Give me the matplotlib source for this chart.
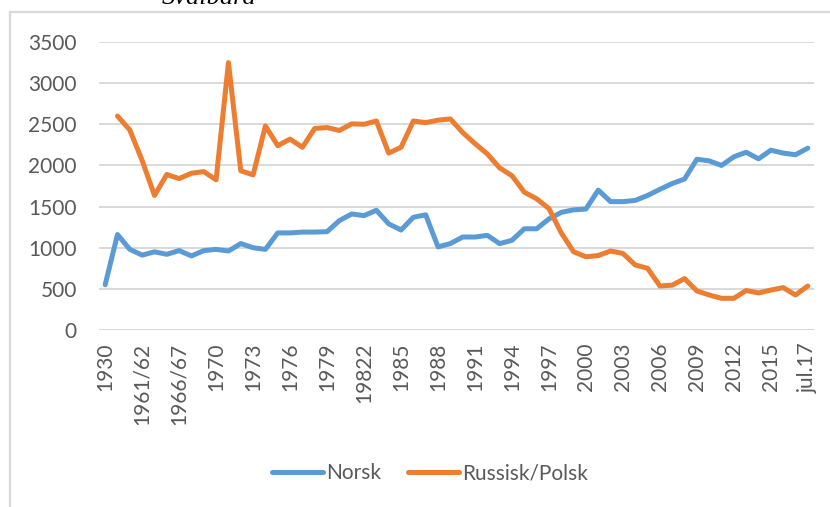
import numpy as np
import matplotlib
matplotlib.use("Agg")
import matplotlib.pyplot as plt
from matplotlib.lines import Line2D

tick_labels = ["1930", "1961/62", "1966/67", "1970", "1973", "1976", "1979", "19822",
               "1985", "1988", "1991", "1994", "1997", "2000", "2003", "2006", "2009",
               "2012", "2015", "jul.17"]

norsk = [550, 1160, 980, 910, 950, 920, 965, 900, 965, 980,
         960, 1050, 1000, 980, 1180, 1180, 1190, 1190, 1195, 1330,
         1410, 1390, 1455, 1290, 1215, 1370, 1400, 1010, 1050, 1130,
         1130, 1150, 1050, 1090, 1230, 1230, 1350, 1430, 1460, 1470,
         1700, 1560, 1560, 1575, 1635, 1710, 1780, 1835, 2075, 2055,
         2000, 2105, 2160, 2080, 2185, 2150, 2130, 2210]

russisk_polsk = [np.nan, 2600, 2430, 2060, 1635, 1890, 1840, 1905, 1925, 1825,
                 3250, 1935, 1885, 2480, 2240, 2320, 2220, 2450, 2460, 2425,
                 2505, 2500, 2540, 2150, 2220, 2540, 2520, 2550, 2565, 2400,
                 2265, 2140, 1970, 1875, 1675, 1595, 1475, 1180, 950, 890,
                 905, 960, 930, 790, 750, 535, 545, 625, 475, 425,
                 385, 385, 480, 450, 485, 515, 425, 535]

W, H = 830, 507
fig = plt.figure(figsize=(W / 100, H / 100), dpi=100)
font = ["Lato", "DejaVu Sans"]
plt.rcParams['font.family'] = font

left, right = 99, 814
top, bottom = 42, 330
ax = fig.add_axes([left / W, 1 - bottom / H, (right - left) / W, (bottom - top) / H])

x = np.arange(len(norsk))
blue = "#5B9BD5"
orange = "#ED7D31"
ax.plot(x, norsk, color=blue, lw=3.6, solid_joinstyle="round", solid_capstyle="round", label="Norsk")
ax.plot(x, russisk_polsk, color=orange, lw=3.6, solid_joinstyle="round", solid_capstyle="round", label="Russisk/Polsk")

ax.set_xlim(-0.5, len(norsk) - 0.5)
ax.set_ylim(0, 3500)
ax.set_yticks(np.arange(0, 3501, 500))
ax.set_xticks(x[::3])
ax.set_xticklabels(tick_labels, rotation=90)
ax.grid(axis="y", color="#D9D9D9", lw=1.4)
ax.set_axisbelow(True)
for s in ax.spines.values():
    s.set_visible(False)
ax.tick_params(axis="both", length=0, labelsize=15, colors="#595959")
ax.tick_params(axis="y", pad=16)
ax.tick_params(axis="x", pad=9)

leg = ax.legend(loc="center", bbox_to_anchor=(430 / W, 1 - 473 / H), bbox_transform=fig.transFigure,
                ncol=2, frameon=False, fontsize=15, handlelength=2.45, handletextpad=0.15,
                columnspacing=1.3)
for t in leg.get_texts():
    t.set_color("#595959")

# chart frame (partially visible)
fig.add_artist(Line2D([10 / W, 10 / W], [1 - 12 / H, 0], transform=fig.transFigure, color="#D9D9D9", lw=1.6))
fig.add_artist(Line2D([10 / W, 1], [1 - 12 / H, 1 - 12 / H], transform=fig.transFigure, color="#D9D9D9", lw=1.6))

fig.text(162 / W, 1 - 4 / H, "Svalbard", family=["Liberation Serif", "DejaVu Serif"], style="italic",
         fontsize=19, va="baseline", ha="left", color="#000000")

fig.savefig("out.png", dpi=100)
